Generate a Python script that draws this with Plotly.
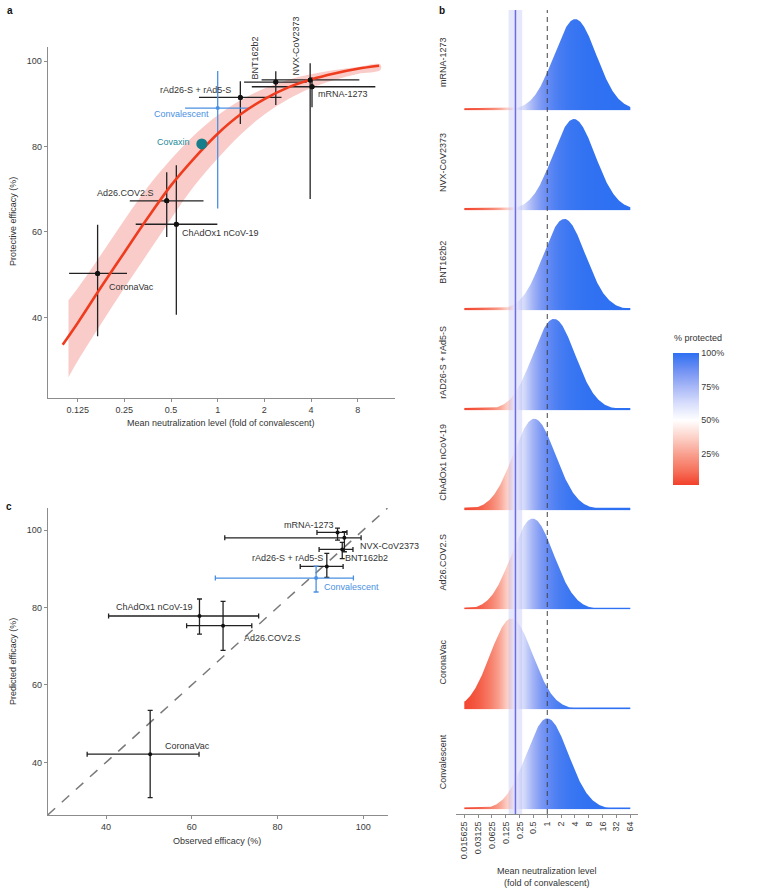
import numpy as np
import plotly.graph_objects as go

W, H = 764, 890
FONT = "Liberation Sans, Arial, Helvetica, sans-serif"

# ---------------- Panel a data ----------------
vaccines = ["CoronaVac", "Ad26.COV2.S", "ChAdOx1 nCoV-19", "rAd26-S + rAd5-S",
            "BNT162b2", "NVX-CoV2373", "mRNA-1273"]
neut_mean = [0.168, 0.469, 0.541, 1.40, 2.37, 3.95, 4.06]
neut_lo = [0.110, 0.271, 0.296, 0.757, 1.48, 1.92, 1.66]
neut_hi = [0.260, 0.810, 0.995, 2.58, 3.75, 8.2, 10.4]
eff_obs = [50.3, 67.3, 61.8, 91.5, 95.1, 95.6, 94.0]
eff_lo = [35.6, 58.8, 40.6, 85.3, 89.7, 67.7, 89.2]
eff_hi = [61.7, 74.0, 75.6, 95.3, 97.6, 99.5, 96.2]

conv_neut, conv_neut_lo, conv_neut_hi = 1.0, 0.616, 1.61
conv_eff, conv_eff_lo, conv_eff_hi = 89.0, 65.5, 97.7
covaxin_neut, covaxin_eff = 0.79, 80.6

curve_fold = [0.100, 0.125, 0.177, 0.25, 0.354, 0.5, 0.707, 1, 1.414, 2, 2.83, 4, 5.66, 8, 11.0]
curve_eff = [33.6, 38.7, 47.1, 55.2, 63.3, 70.9, 77.3, 83.0, 87.6, 91.1, 93.8, 95.7, 97.1, 98.2, 98.9]
band_fold = [0.109, 0.125, 0.177, 0.25, 0.354, 0.5, 0.707, 1, 1.414, 2, 2.83, 4, 5.66, 8, 11.2]
band_upper = [44.0, 46.8, 54.7, 62.8, 70.5, 77.0, 82.7, 87.3, 90.9, 93.6, 95.6, 96.9, 97.9, 98.6, 99.2]
band_lower = [26.0, 29.8, 38.5, 46.9, 55.0, 63.1, 70.8, 77.2, 82.9, 87.5, 91.0, 93.7, 95.6, 97.0, 97.9]

a_xticks = [0.125, 0.25, 0.5, 1, 2, 4, 8]
a_xticktext = ["0.125", "0.25", "0.5", "1", "2", "4", "8"]
eff_ticks = [40, 60, 80, 100]

# ---------------- Panel c data ----------------
pred_eff = [42.1, 75.3, 77.8, 90.6, 95.0, 98.0, 99.4]
pred_lo = [30.9, 68.9, 73.1, 87.8, 92.6, 94.4, 97.4]
pred_hi = [53.4, 81.6, 82.2, 94.0, 96.8, 99.6, 100.5]
conv_pred, conv_pred_lo, conv_pred_hi = 87.6, 84.0, 90.7

# ---------------- Panel b data ----------------
ridge_names = ["mRNA-1273", "NVX-CoV2373", "BNT162b2", "rAD26-S + rAd5-S",
               "ChAdOx1 nCoV-19", "Ad26.COV2.S", "CoronaVac", "Convalescent"]
ridge_mean_fold = [4.06, 3.8, 2.35, 1.40, 0.52, 0.48, 0.166, 1.0]
ridge_sd_log10 = 0.46
protect_n50 = 0.203
protect_n50_lo, protect_n50_hi = 0.144, 0.284
protect_slope = 3.0
b_ticks_log2 = list(range(-6, 7))
b_ticktext = ["0.015625", "0.03125", "0.0625", "0.125", "0.25", "0.5", "1",
              "2", "4", "8", "16", "32", "64"]
cbar_ticks = [0.25, 0.5, 0.75, 1.0]
cbar_ticktext = ["25%", "50%", "75%", "100%"]

# colour scale (value space)
cs_vals = [0.0, 0.125, 0.25, 0.375, 0.5, 0.625, 0.75, 0.875, 1.0]
cs_cols = ['#F2412B', '#F6715B', '#F9A08F', '#FCD2C9', '#FFFFFF',
           '#D8DEFB', '#A7B7F7', '#6F90F3', '#2D70F2']
ZMIN, ZMAX = 0.02, 1.0

# ---------------- helpers ----------------
def px(x, y):
    return x / W, 1 - y / H

def ann(text, x, y, size=9, color="#333333", xanchor="center", yanchor="middle",
        angle=0, bold=False):
    xx, yy = px(x, y)
    if bold:
        text = "<b>" + text + "</b>"
    return dict(text=text, x=xx, y=yy, xref="paper", yref="paper", showarrow=False,
                font=dict(family=FONT, size=size, color=color), xanchor=xanchor,
                yanchor=yanchor, textangle=angle)

def dom(a, b, total):
    return [a / total, b / total]

fig = go.Figure()

# ---------------- Panel a ----------------
fig.add_trace(go.Scatter(
    x=band_fold + band_fold[::-1], y=band_upper + band_lower[::-1],
    fill="toself", fillcolor="rgba(238,110,100,0.35)", mode="lines",
    line=dict(width=0, shape="spline"), hoverinfo="skip", xaxis="x", yaxis="y"))

ex_plus = [h - m for h, m in zip(neut_hi, neut_mean)]
ex_minus = [m - l for m, l in zip(neut_mean, neut_lo)]
ey_plus = [h - m for h, m in zip(eff_hi, eff_obs)]
ey_minus = [m - l for m, l in zip(eff_obs, eff_lo)]
fig.add_trace(go.Scatter(
    x=neut_mean, y=eff_obs, mode="markers", marker=dict(size=5, color="#111111"),
    error_x=dict(type="data", symmetric=False, array=ex_plus, arrayminus=ex_minus,
                 color="#222222", thickness=1.3, width=0),
    error_y=dict(type="data", symmetric=False, array=ey_plus, arrayminus=ey_minus,
                 color="#222222", thickness=1.3, width=0),
    xaxis="x", yaxis="y"))
fig.add_trace(go.Scatter(
    x=[conv_neut], y=[conv_eff], mode="markers", marker=dict(size=4, color="#4A90E2"),
    error_x=dict(type="data", symmetric=False, array=[conv_neut_hi - conv_neut],
                 arrayminus=[conv_neut - conv_neut_lo], color="#4A90E2", thickness=1.3, width=0),
    error_y=dict(type="data", symmetric=False, array=[conv_eff_hi - conv_eff],
                 arrayminus=[conv_eff - conv_eff_lo], color="#4A90E2", thickness=1.3, width=0),
    xaxis="x", yaxis="y"))
fig.add_trace(go.Scatter(
    x=curve_fold, y=curve_eff, mode="lines",
    line=dict(color="#F03C1E", width=2.6, shape="spline"), hoverinfo="skip",
    xaxis="x", yaxis="y"))
fig.add_trace(go.Scatter(
    x=neut_mean, y=eff_obs, mode="markers", marker=dict(size=5, color="#111111"),
    xaxis="x", yaxis="y"))
fig.add_trace(go.Scatter(
    x=[covaxin_neut], y=[covaxin_eff], mode="markers",
    marker=dict(size=11, color="#167D8A"), xaxis="x", yaxis="y"))

# ---------------- Panel c ----------------
c_lo, c_hi = 26.4, 105.7
fig.add_trace(go.Scatter(
    x=[c_lo, c_hi], y=[c_lo, c_hi], mode="lines",
    line=dict(color="#7a7a7a", width=1.5, dash="10px,9px"), hoverinfo="skip",
    xaxis="x2", yaxis="y2"))
cx_plus = [h - m for h, m in zip(eff_hi, eff_obs)]
cx_minus = [m - l for m, l in zip(eff_obs, eff_lo)]
cy_plus = [h - m for h, m in zip(pred_hi, pred_eff)]
cy_minus = [m - l for m, l in zip(pred_eff, pred_lo)]
fig.add_trace(go.Scatter(
    x=eff_obs, y=pred_eff, mode="markers", marker=dict(size=4, color="#111111"),
    error_x=dict(type="data", symmetric=False, array=cx_plus, arrayminus=cx_minus,
                 color="#222222", thickness=1.3, width=2.5),
    error_y=dict(type="data", symmetric=False, array=cy_plus, arrayminus=cy_minus,
                 color="#222222", thickness=1.3, width=2.5),
    xaxis="x2", yaxis="y2"))
fig.add_trace(go.Scatter(
    x=[conv_eff], y=[conv_pred], mode="markers", marker=dict(size=4, color="#4A90E2"),
    error_x=dict(type="data", symmetric=False, array=[conv_eff_hi - conv_eff],
                 arrayminus=[conv_eff - conv_eff_lo], color="#4A90E2", thickness=1.3, width=2.5),
    error_y=dict(type="data", symmetric=False, array=[conv_pred_hi - conv_pred],
                 arrayminus=[conv_pred - conv_pred_lo], color="#4A90E2", thickness=1.3, width=2.5),
    xaxis="x2", yaxis="y2"))

# ---------------- Panel b (ridgelines with protection gradient) ----------------
n_rows = len(ridge_names)
band_top = 0.93
x_edges = np.linspace(-6, 6, 241)
x_cent = 0.5 * (x_edges[:-1] + x_edges[1:])
prot = 1.0 / (1.0 + np.exp(-protect_slope * (x_cent * np.log10(2) - np.log10(protect_n50))))
y_edges = []
z_rows = []
for r in range(n_rows):
    y_edges += [r, r + band_top]
    z_rows.append(prot)
    if r < n_rows - 1:
        z_rows.append(np.full_like(prot, np.nan))
y_edges = np.array(y_edges[:-1] + [n_rows - 1 + band_top])
z = np.array(z_rows)

cscale = []
for v, c in zip(cs_vals, cs_cols):
    t = max(0.0, (v - ZMIN) / (ZMAX - ZMIN))
    cscale.append([t, c])
cscale[0][0] = 0.0

fig.add_trace(go.Heatmap(
    x=x_edges, y=y_edges, z=z, zmin=ZMIN, zmax=ZMAX, colorscale=cscale, zsmooth=False,
    hoverinfo="skip", xaxis="x3", yaxis="y3", showscale=True,
    colorbar=dict(x=672.7 / W, xanchor="left", xpad=0, y=1 - 352.7 / H, yanchor="top",
                  ypad=0, len=(484.3 - 352.7) / H, lenmode="fraction", thickness=26.3,
                  thicknessmode="pixels", outlinewidth=0, tickvals=cbar_ticks,
                  ticktext=cbar_ticktext, ticks="",
                  tickfont=dict(family=FONT, size=9, color="#3a3a3a"))))

# white masks above each density curve give the ridges their smooth outline
sd_log2 = ridge_sd_log10 / np.log10(2)
peak_h, min_t = 0.91, 0.018
xl = np.linspace(-6, 6, 601)
for idx, m in enumerate(ridge_mean_fold):
    r = n_rows - 1 - idx
    mu = np.log2(m)
    h = np.maximum(peak_h * np.exp(-0.5 * ((xl - mu) / sd_log2) ** 2), min_t)
    ytop = r + h
    mx = np.concatenate([[-6.2], xl, [6.2, 6.2, -6.2]])
    my = np.concatenate([[ytop[0]], ytop, [ytop[-1], r + 0.985, r + 0.985]])
    fig.add_trace(go.Scatter(
        x=mx, y=my, fill="toself", fillcolor="white", mode="lines",
        line=dict(width=0, color="white"), hoverinfo="skip", xaxis="x3", yaxis="y3"))

shapes = [
    dict(type="rect", xref="x3", yref="y3 domain", x0=np.log2(protect_n50_lo),
         x1=np.log2(protect_n50_hi), y0=0, y1=1, fillcolor="rgba(120,120,235,0.18)",
         line=dict(width=0), layer="above"),
    dict(type="line", xref="x3", yref="y3 domain", x0=np.log2(protect_n50),
         x1=np.log2(protect_n50), y0=0, y1=1, line=dict(color="#6B6BE3", width=1.5),
         layer="above"),
    dict(type="line", xref="x3", yref="y3 domain", x0=0, x1=0, y0=0, y1=1,
         line=dict(color="#444444", width=1, dash="5px,4px"), layer="above"),
]

# ---------------- axes ----------------
axstyle = dict(showline=True, linecolor="#8c8c8c", linewidth=1, ticks="outside",
               ticklen=3, tickwidth=1, tickcolor="#8c8c8c", showgrid=False,
               zeroline=False, tickfont=dict(family=FONT, size=9, color="#3a3a3a"))

fig.update_layout(
    width=W, height=H, margin=dict(l=0, r=0, t=0, b=0),
    paper_bgcolor="white", plot_bgcolor="white", showlegend=False,
    hovermode=False, font=dict(family=FONT, size=9, color="#333333"),
    xaxis=dict(domain=dom(47.7, 395, W), type="log",
               range=[np.log10(2 ** -3.643), np.log10(2 ** 3.8)],
               tickvals=a_xticks, ticktext=a_xticktext, anchor="y", **axstyle),
    yaxis=dict(domain=[1 - 397.7 / H, 1 - 47 / H], range=[21.2, 103.3],
               tickvals=eff_ticks, anchor="x", **axstyle),
    xaxis2=dict(domain=dom(47.7, 387.7, W), range=[c_lo, c_hi], tickvals=eff_ticks,
                anchor="y2", **axstyle),
    yaxis2=dict(domain=[1 - 815 / H, 1 - 508 / H], range=[c_lo, c_hi],
                tickvals=eff_ticks, anchor="x2", **axstyle),
    xaxis3=dict(domain=dom(456, 638, W), range=[-6.60, 6.56], tickvals=b_ticks_log2,
                ticktext=b_ticktext, tickangle=-90, anchor="y3", **axstyle),
    yaxis3=dict(domain=[1 - 814 / H, 1 - 10 / H], range=[-0.047, 8.001],
                visible=False, anchor="x3"),
    shapes=shapes,
)

annotations = [
    ann("a", 10, 11, size=10, color="#111", bold=True),
    ann("b", 442, 11, size=10, color="#111", bold=True),
    ann("c", 9, 506, size=10, color="#111", bold=True),
    # panel a titles
    ann("Mean neutralization level (fold of convalescent)", 220.7, 423.3),
    ann("Protective efficacy (%)", 12.3, 221.7, angle=-90),
    # panel a labels
    ann("BNT162b2", 254, 58.5, angle=-90),
    ann("NVX-CoV2373", 295, 46.5, angle=-90),
    ann("rAd26-S + rAd5-S", 232.7, 90, xanchor="right"),
    ann("mRNA-1273", 316, 93.7, xanchor="left"),
    ann("Convalescent", 211, 114.3, xanchor="right", color="#4A90E2"),
    ann("Covaxin", 192.3, 142, xanchor="right", color="#1F8A99"),
    ann("Ad26.COV2.S", 156, 192.7, xanchor="right"),
    ann("ChAdOx1 nCoV-19", 180, 233.3, xanchor="left"),
    ann("CoronaVac", 106.7, 286.7, xanchor="left"),
    # panel c titles
    ann("Observed efficacy (%)", 217.3, 840.7),
    ann("Predicted efficacy (%)", 12.3, 661.7, angle=-90),
    # panel c labels
    ann("mRNA-1273", 308.5, 524.5),
    ann("NVX-CoV2373", 357.5, 545.5, xanchor="left"),
    ann("BNT162b2", 343, 558, xanchor="left"),
    ann("rAd26-S + rAd5-S", 325, 558, xanchor="right"),
    ann("Convalescent", 321.5, 587, xanchor="left", color="#4A90E2"),
    ann("ChAdOx1 nCoV-19", 154, 606.7),
    ann("Ad26.COV2.S", 241.7, 638.3, xanchor="left"),
    ann("CoronaVac", 162.7, 745.7, xanchor="left"),
    # panel b
    ann("Mean neutralization level<br>(fold of convalescent)", 547, 876.5),
    ann("% protected", 672, 338.5, xanchor="left"),
]
for idx, name in enumerate(ridge_names):
    r = n_rows - 1 - idx
    annotations.append(dict(text=name, x=443 / W, y=r + 0.48, xref="paper", yref="y3",
                            showarrow=False, textangle=-90,
                            font=dict(family=FONT, size=9, color="#333333"),
                            xanchor="center", yanchor="middle"))
fig.update_layout(annotations=annotations)

fig.write_html("out.html", config={"displayModeBar": False},
               post_script="document.body.style.margin='0px';"
                           "document.body.style.overflow='hidden';")
